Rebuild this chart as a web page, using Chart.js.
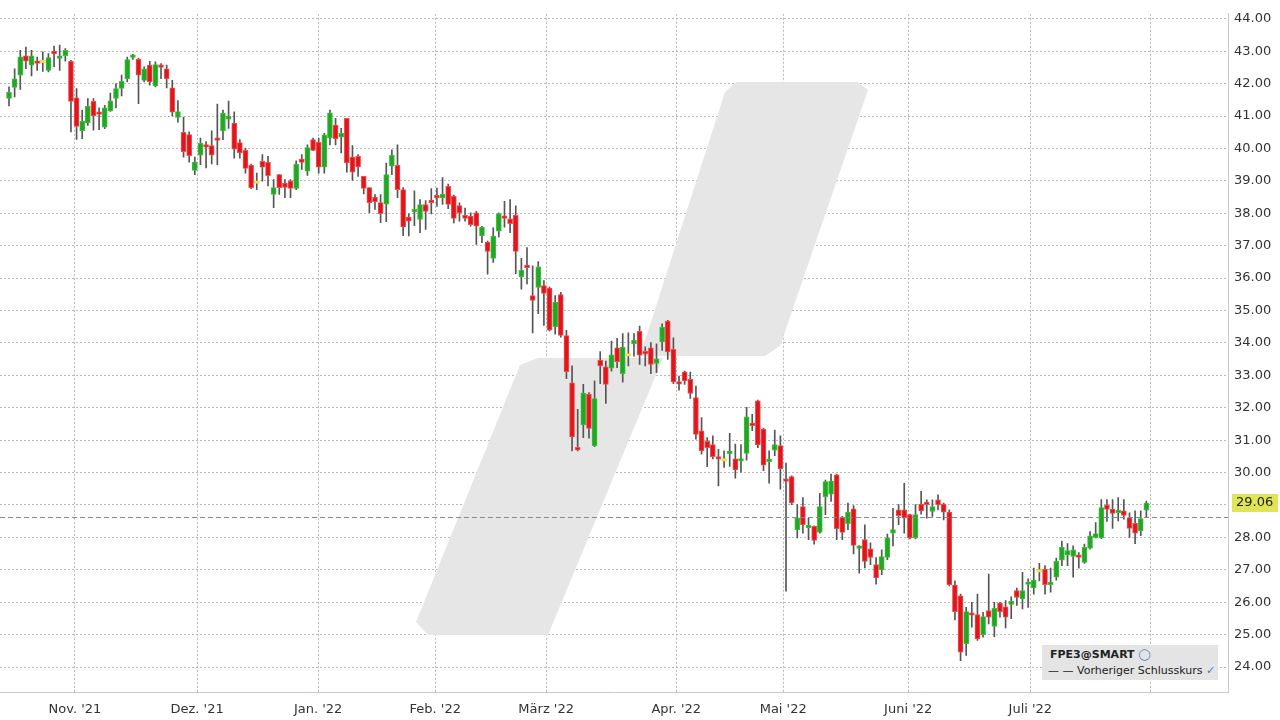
<!DOCTYPE html>
<html><head><meta charset="utf-8">
<script src="https://cdn.jsdelivr.net/npm/chart.js@4/dist/chart.umd.min.js"></script>
<style>
html,body{margin:0;padding:0;background:#fff;}
#wrap{position:relative;width:1280px;height:720px;}
#legend{position:absolute;left:1042px;top:645px;width:176px;height:35px;background:#e4e4e4;font-family:"DejaVu Sans",Verdana,sans-serif;font-size:11px;color:#222;white-space:nowrap;}
#legend .t{position:absolute;left:8px;top:3px;font-weight:bold;}
#legend .s{position:absolute;left:6px;top:19px;}
</style></head>
<body><div id="wrap"><canvas id="c" width="1280" height="720"></canvas>
<div id="legend"><div class="t">FPE3@SMART <span style="color:#4a7fb0;font-weight:normal">&#9711;</span></div><div class="s">&#8212; &#8212; Vorheriger Schlusskurs <span style="color:#3a7ad0">&#10003;</span></div></div></div>
<script>
// Kerzen 1..203 (Okt. '21 – Juli '22)
const opens = [41.54,41.88,42.26,42.86,42.57,42.70,42.67,42.41,42.98,42.80,42.86,42.69,41.56,40.55,40.79,41.45,41.11,40.66,41.16,41.54,41.85,42.15,42.83,42.75,42.10,42.57,41.93,42.56,42.46,41.87,40.96,40.50,40.43,39.32,
39.79,40.10,40.09,40.31,40.54,40.90,40.78,40.18,39.94,39.48,38.94,39.60,39.57,38.58,39.19,38.93,38.99,38.77,39.67,39.30,40.27,40.19,39.42,40.32,40.72,40.35,40.93,39.73,39.76,39.14,38.79,38.50,38.33,38.28,39.45,39.48,38.73,
37.88,38.06,37.81,38.27,38.39,38.55,38.47,38.83,38.52,38.24,37.94,37.91,38.01,37.30,37.11,36.61,37.45,37.90,37.83,37.94,36.04,36.38,35.46,35.71,35.77,35.69,34.49,35.49,34.23,
32.77,30.76,31.47,32.42,30.83,33.47,33.26,33.22,33.85,33.05,33.61,33.97,34.36,33.72,33.85,33.37,34.03,34.67,33.80,32.79,33.11,32.88,32.31,31.29,30.96,30.86,30.47,30.37,30.60,30.42,30.37,30.59,31.51,32.21,31.34,30.36,30.69,30.83,29.79,
29.88,28.24,28.95,28.32,28.34,28.15,29.26,29.33,29.93,28.62,28.42,28.88,27.68,27.93,27.65,27.16,27.00,27.38,28.13,28.85,28.85,28.70,27.98,29.03,29.09,28.80,29.16,29.03,28.78,
26.53,26.20,24.72,25.67,25.62,25.00,25.74,25.25,25.97,25.86,25.93,26.36,26.10,26.57,26.44,26.95,27.02,26.56,26.77,27.30,27.46,27.41,27.44,27.23,27.67,28.00,27.98,29.00,28.87,28.76,28.82,28.61,28.43,28.20,28.84];
const highs = [41.90,42.46,43.03,43.13,43.03,42.82,42.98,42.93,43.16,43.19,43.08,42.72,41.85,41.18,41.54,41.54,41.25,41.33,41.71,42.00,42.26,42.82,42.90,42.79,42.52,42.69,42.67,42.62,42.57,42.10,41.48,40.97,40.51,39.73,
40.32,40.21,40.54,41.37,41.18,41.46,41.13,40.27,40.01,39.52,39.24,39.81,39.76,39.04,39.19,39.04,39.04,39.62,39.81,40.11,40.32,40.32,40.47,41.18,40.93,40.62,40.93,40.09,39.81,39.14,38.79,38.58,38.58,39.55,39.96,40.11,38.79,
37.98,38.69,38.42,38.39,38.76,38.78,39.10,38.90,38.56,38.32,38.16,38.01,38.06,37.60,37.14,37.55,38.01,38.37,38.42,38.23,36.61,36.94,36.38,36.51,35.92,35.72,35.46,35.56,34.39,
33.29,31.95,32.72,32.47,32.83,33.73,33.44,34.06,34.14,34.29,34.31,34.29,34.52,33.88,34.01,33.97,34.59,34.70,34.16,32.98,33.13,33.10,32.67,31.70,31.08,31.13,30.72,30.67,31.21,30.88,30.86,32.01,31.80,32.24,31.37,30.67,31.31,31.13,30.29,
29.90,29.01,29.23,28.59,28.36,29.36,29.77,29.95,29.95,28.65,29.06,28.98,27.75,28.39,27.83,27.38,27.62,28.10,28.90,29.01,29.67,28.72,29.01,29.42,29.16,29.16,29.31,29.06,28.85,
26.66,26.25,25.84,26.00,26.25,25.69,26.87,26.00,26.00,26.05,26.17,26.44,26.92,26.72,27.05,27.20,27.13,27.05,27.36,27.89,27.81,27.74,27.53,27.79,28.18,28.46,29.17,29.17,29.17,29.23,29.17,28.76,28.82,28.82,29.12];
const lows = [41.31,41.59,41.82,42.46,42.24,42.41,42.38,42.36,42.52,42.41,42.69,40.51,40.28,40.30,40.71,40.56,40.58,40.61,41.14,41.25,41.62,42.05,42.75,41.38,42.05,41.95,41.90,42.15,41.87,41.00,40.81,39.73,39.58,39.19,
39.50,39.40,39.52,39.50,40.27,40.62,39.70,39.70,39.24,38.76,38.73,38.99,38.84,38.17,38.58,38.48,38.48,38.73,39.35,39.17,39.93,39.24,39.24,40.11,40.11,39.86,39.27,39.01,39.14,38.60,38.02,38.12,37.71,37.74,39.19,38.48,37.31,
37.30,37.62,37.40,37.50,37.98,38.21,38.27,38.14,37.70,37.76,37.76,37.60,37.04,37.09,36.12,36.48,37.27,37.57,37.40,36.14,35.66,35.82,34.31,34.90,34.54,34.37,34.27,34.18,32.90,
30.67,30.67,31.08,31.06,30.80,32.74,32.13,33.13,33.24,32.79,33.29,33.59,33.34,33.29,33.05,33.08,33.77,33.49,32.74,32.54,32.72,32.29,31.03,30.57,30.18,30.42,29.59,30.16,30.19,29.83,30.01,30.38,31.29,30.77,30.06,29.67,30.52,29.49,26.34,
29.01,27.98,28.13,27.93,27.79,28.13,28.70,29.11,27.93,27.93,28.24,27.49,26.90,27.06,27.16,26.56,26.85,27.31,27.74,28.39,28.13,27.95,27.95,28.72,28.59,28.65,28.85,28.54,26.50,
25.45,24.20,24.36,25.23,24.82,24.92,25.33,24.94,25.54,25.21,25.49,25.90,25.79,25.84,26.25,26.66,26.25,26.31,26.68,27.13,27.13,26.77,27.05,27.20,27.64,27.98,27.96,28.49,28.28,28.51,28.56,28.00,27.81,28.05,28.63];
const closes = [41.74,42.15,42.83,42.69,42.86,42.62,42.70,42.80,42.94,42.84,43.03,41.45,40.68,40.84,41.31,41.00,41.07,41.25,41.47,41.85,42.07,42.74,42.87,42.26,42.46,42.05,42.59,42.52,42.15,41.12,41.14,39.90,39.78,39.58,
40.16,40.06,39.79,40.27,41.08,41.00,39.98,39.86,39.38,38.79,38.98,39.42,39.16,38.79,38.79,38.80,38.77,39.52,39.57,40.03,39.94,39.42,40.42,41.10,40.29,40.47,39.55,39.27,39.43,38.77,38.33,38.36,37.99,39.19,39.79,38.73,37.58,
37.76,38.10,38.27,38.06,38.35,38.47,38.59,38.27,37.84,38.01,37.84,37.65,37.60,37.57,36.82,37.30,37.98,37.86,37.68,36.82,36.24,36.34,35.31,36.35,35.53,34.39,35.26,34.23,33.11,
31.10,30.72,32.45,31.36,32.28,33.29,32.72,33.63,33.42,33.87,33.65,34.09,33.62,33.68,33.34,33.51,34.49,33.72,32.80,32.75,32.83,32.44,31.18,30.67,30.77,30.49,30.43,30.41,30.64,30.08,30.41,31.72,31.47,30.85,30.23,30.40,30.86,30.11,29.75,
29.06,28.60,28.39,28.36,27.91,28.95,29.72,29.74,28.27,28.15,28.78,27.75,27.72,27.26,27.38,26.75,27.41,27.98,28.24,28.67,28.59,27.98,28.70,28.82,29.01,28.95,29.00,28.78,26.54,
25.71,24.46,25.71,25.60,24.87,25.56,25.54,25.81,25.71,25.54,26.03,26.15,26.36,26.61,26.68,26.99,26.54,26.60,27.26,27.69,27.59,27.62,27.40,27.69,28.05,28.12,28.92,28.86,28.74,28.84,28.68,28.28,28.13,28.58,29.06];
// neutrale (gelbe) Kerzen
const neutral = [7,45,111,128,184];

const monthLabels = ["Nov. '21","Dez. '21","Jan. '22","Feb. '22","März '22","Apr. '22","Mai '22","Juni '22","Juli '22",""];
const monthPos = [12.7,34.4,55.9,76.7,96.4,119.5,138.5,160.7,182.4,203.7];
const prevClose = 28.62;
const lastPrice = 29.06;

const RED = '#e0161c', GREEN = '#25a525', YELLOW = '#f4ec60';
const wickData = [], bodyData = [], bodyColors = [], bodyBorders = [];
for (let i = 0; i < closes.length; i++) {
  const n = i + 1;
  wickData.push({ x: n, y: [lows[i], highs[i]] });
  let o = opens[i], c = closes[i];
  if (Math.abs(o - c) < 0.06) { const m = (o + c) / 2; o = m - 0.04; c = m + 0.04; }
  bodyData.push({ x: n, y: [o, c] });
  if (neutral.includes(n)) { bodyColors.push(YELLOW); bodyBorders.push('#e6d840'); }
  else if (closes[i] >= opens[i]) { bodyColors.push(GREEN); bodyBorders.push('#3bc23b'); }
  else { bodyColors.push(RED); bodyBorders.push('#f05050'); }
}

const extras = {
  id: 'extras',
  beforeDatasetsDraw(chart) {
    const ctx = chart.ctx;
    ctx.save();
    ctx.fillStyle = '#e6e6e6';
    const shape = (pts) => {
      ctx.beginPath(); ctx.moveTo(pts[0][0], pts[0][1]);
      for (const p of pts.slice(1)) ctx.lineTo(p[0], p[1]);
      ctx.closePath(); ctx.fill();
    };
    shape([[428,635],[548,635],[663,358],[538,358],[520,365],[416,622]]);
    shape([[640,356],[765,356],[780,346],[868,90],[858,82],[736,82],[725,92]]);
    ctx.restore();
  },
  afterDatasetsDraw(chart) {
    const ctx = chart.ctx, y = chart.scales.y, a = chart.chartArea;
    ctx.save();
    const py = Math.round(y.getPixelForValue(prevClose)) + 0.5;
    ctx.strokeStyle = '#888'; ctx.setLineDash([5, 3]); ctx.lineWidth = 1;
    ctx.beginPath(); ctx.moveTo(a.left, py); ctx.lineTo(a.right, py); ctx.stroke();
    ctx.setLineDash([]);
    const ly = y.getPixelForValue(lastPrice);
    ctx.fillStyle = '#dfe556';
    ctx.fillRect(a.right + 4, ly - 9, 46, 18);
    ctx.fillStyle = '#222'; ctx.font = '13px "DejaVu Sans"'; ctx.textBaseline = 'middle';
    ctx.fillText(lastPrice.toFixed(2), a.right + 8, ly);
    ctx.restore();
  }
};

new Chart(document.getElementById('c').getContext('2d'), {
  type: 'bar',
  data: {
    datasets: [
      { data: wickData, backgroundColor: '#555', barThickness: 1, grouped: false, order: 2 },
      { data: bodyData, backgroundColor: bodyColors, borderColor: bodyBorders, borderWidth: 1, borderSkipped: false, barThickness: 5, grouped: false, order: 1 },
    ],
  },
  options: {
    responsive: false,
    animation: false,
    layout: { padding: { left: 0, top: 0, right: 4, bottom: 0 } },
    plugins: { legend: { display: false }, tooltip: { enabled: false } },
    scales: {
      x: {
        type: 'linear', min: -0.6, max: 217.5, offset: false,
        afterBuildTicks: (s) => { s.ticks = monthPos.map((v) => ({ value: v })); },
        afterFit: (s) => { s.height = 28; },
        ticks: { autoSkip: false, maxRotation: 0, padding: 10, color: '#333', font: { family: 'DejaVu Sans', size: 13 },
          callback: (v) => monthLabels[monthPos.indexOf(v)] },
        grid: { color: '#b8b8b8', tickLength: 0, lineWidth: 1, offset: false },
        border: { display: true, color: '#c8c8c8', dash: [2, 2] },
      },
      y: {
        position: 'right', min: 23.23, max: 44.154,
        afterBuildTicks: (s) => { const t = []; for (let v = 24; v <= 44; v++) t.push({ value: v }); s.ticks = t; },
        afterFit: (s) => { s.width = 48; },
        ticks: { color: '#333', padding: 6, font: { family: 'DejaVu Sans', size: 13 }, callback: (v) => v.toFixed(2) },
        grid: { color: '#b8b8b8', tickLength: 0 },
        border: { display: true, color: '#c8c8c8', dash: [2, 2] },
      },
    },
  },
  plugins: [extras],
});
</script></body></html>
